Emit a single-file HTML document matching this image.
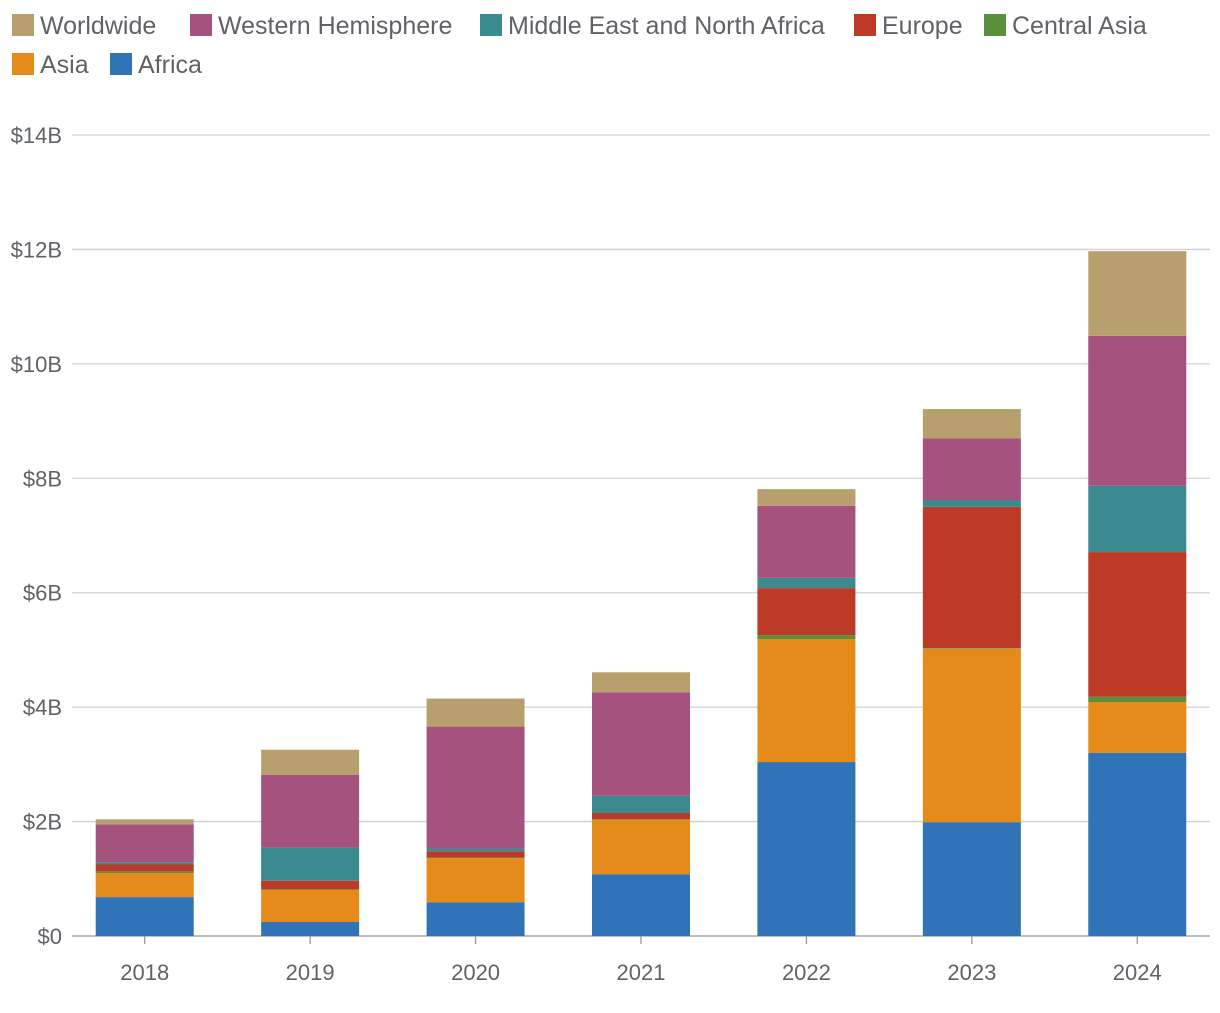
<!DOCTYPE html>
<html><head><meta charset="utf-8"><style>
body{margin:0;background:#fff;font-family:"Liberation Sans",sans-serif;}
svg text{font-family:"Liberation Sans",sans-serif;fill:#5f6368;}
</style></head><body>
<svg id="chart" width="1220" height="1008"></svg>
<script>
const years=["2018","2019","2020","2021","2022","2023","2024"];
const seriesNames=["Africa","Asia","Central Asia","Europe","Middle East and North Africa","Western Hemisphere","Worldwide"];
const africa=[0.68,0.245,0.59,1.08,3.04,1.99,3.20];
const asia=[0.42,0.56,0.77,0.95,2.15,3.03,0.89];
const centralAsia=[0.03,0.01,0.01,0.01,0.07,0.01,0.09];
const europe=[0.12,0.15,0.11,0.11,0.82,2.47,2.53];
const mena=[0.04,0.58,0.05,0.30,0.18,0.12,1.16];
const westernHemisphere=[0.66,1.27,2.13,1.81,1.26,1.08,2.62];
const worldwide=[0.09,0.44,0.49,0.35,0.29,0.51,1.48];
const yTicks=[0,2,4,6,8,10,12,14];
const yTickLabels=["$0","$2B","$4B","$6B","$8B","$10B","$12B","$14B"];
const seriesData=[africa,asia,centralAsia,europe,mena,westernHemisphere,worldwide];
const colors=["#3074b7","#e58b1a","#5a8f3c","#bd3a26","#3a8a8f","#a5527f","#b8a06e"];
const NS="http://www.w3.org/2000/svg";
const svg=document.getElementById('chart');
const x0=72,x1=1210,y0=936,yTop=135,yMaxV=14;
const yScale=v=>y0-v*(y0-yTop)/yMaxV;
const bandStart=62,bandEnd=1220;
const step=(bandEnd-bandStart)/years.length;
const xScale=i=>bandStart+step*(i+0.5);
const barW=98;
function mk(t,a){const e=document.createElementNS(NS,t);for(const k in a)e.setAttribute(k,a[k]);svg.appendChild(e);return e;}
yTicks.forEach((v,i)=>{
 const g=mk('line',{x1:x0,x2:x1,y1:yScale(v),y2:yScale(v),stroke:v===0?'#999':'#d0d0d0','stroke-width':1.3});
 
 
 const t=mk('text',{x:62,y:yScale(v)+8,'text-anchor':'end','font-size':22});
 t.textContent=yTickLabels[i];
 
 
});
years.forEach((y,i)=>{
 const cx=xScale(i);
 const tk=mk('line',{x1:cx,x2:cx,y1:y0,y2:y0+8,stroke:'#999','stroke-width':1.3});
 
 
 const t=mk('text',{x:cx,y:980,'text-anchor':'middle','font-size':22});
 t.textContent=y;
 
 
 let acc=0;
 seriesData.forEach((arr,s)=>{
  const v=arr[i];
  const r=mk('rect',{x:cx-barW/2,y:yScale(acc+v),width:barW,height:yScale(acc)-yScale(acc+v),fill:colors[s]});
  
  
  acc+=v;
 });
});
const legendOrder=[6,5,4,3,2,1,0];
const pos=[[12,25],[190,25],[480,25],[854,25],[984,25],[12,64],[110,64]];
legendOrder.forEach((s,k)=>{
 const [lx,ly]=pos[k];
 const r=mk('rect',{x:lx,y:ly-11,width:22,height:22,fill:colors[s]});
 
 
 const t=mk('text',{x:lx+28,y:ly+9,'font-size':25});
 t.textContent=seriesNames[s];
 
 
});
</script>
</body></html>
